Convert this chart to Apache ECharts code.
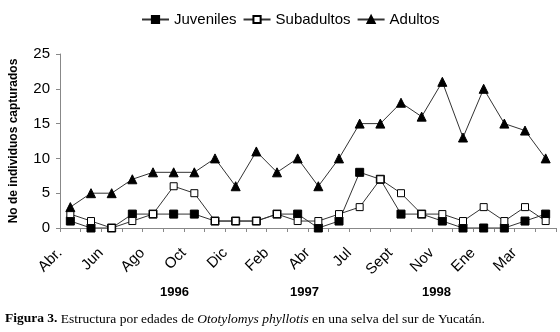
<!DOCTYPE html>
<html>
	<head>
		<meta charset="utf-8" />
    <title>Estructura por edades</title>
    <style>
      html, body { margin: 0; padding: 0; background: #fff; }
      #chartBox { width: 560px; height: 332px; }
    </style>
	</head>
	<body>
    <div id="chartBox"></div>
  </body>
	<script src="https://cdn.jsdelivr.net/npm/echarts@6/dist/echarts.min.js"></script>
  <script>
    // meses de muestreo (se rotula uno de cada dos)
    var months = ['Abr.', 'May', 'Jun', 'Jul', 'Ago', 'Sep', 'Oct', 'Nov', 'Dic', 'Ene', 'Feb', 'Mar',
                  'Abr', 'Jun', 'Jul', 'Ago', 'Sept', 'Oct', 'Nov', 'Dic', 'Ene', 'Feb', 'Mar', 'Abr'];
    var juveniles  = [1, 0, 0, 2, 2, 2, 2, 1, 1, 1, 2, 2, 0, 1, 8, 7, 2, 2, 1, 0, 0, 0, 1, 2];
    var subadultos = [2, 1, 0, 1, 2, 6, 5, 1, 1, 1, 2, 1, 1, 2, 3, 7, 5, 2, 2, 1, 3, 1, 3, 1];
    var adultos    = [3, 5, 5, 7, 8, 8, 8, 10, 6, 11, 8, 10, 6, 10, 15, 15, 18, 16, 21, 13, 20, 15, 14, 10];
    var yTicks = [0, 5, 10, 15, 20, 25];
    var years = ['1996', '1997', '1998'];

    var _font = 'Arial, "Liberation Sans", sans-serif';
    var _serif = '"Liberation Serif", "DejaVu Serif", serif';
    var _lineColor = '#333';

    function lineSeries(name, data, symbol, fill, size) {
      return {
        name: name,
        type: 'line',
        data: data,
        symbol: symbol,
        symbolSize: size,
        showAllSymbol: true,
        lineStyle: { color: _lineColor, width: 1 },
        itemStyle: { color: fill, borderColor: '#000', borderWidth: 1 },
        emphasis: { disabled: true },
        animation: false
      };
    }

    var myChart = echarts.init(document.getElementById('chartBox'));
    var option = {
      backgroundColor: '#fff',
      animation: false,
      legend: {
        top: 7,
        left: 136,
        itemWidth: 27,
        itemHeight: 9,
        itemGap: 6,
        textStyle: { fontFamily: _font, fontSize: 15, color: '#000' },
        data: ['Juveniles', 'Subadultos', 'Adultos']
      },
      grid: { left: 58, right: 4, top: 54, bottom: 104 },
      xAxis: {
        type: 'category',
        boundaryGap: true,
        data: months,
        axisLine: { lineStyle: { color: '#888', width: 1 } },
        axisTick: { show: true, interval: 0, length: 4, lineStyle: { color: '#888' } },
        axisLabel: {
          interval: 1,
          rotate: 45,
          margin: 12,
          padding: [0, 15, 0, 0],
          fontFamily: _font,
          fontSize: 15,
          color: '#000'
        },
        splitLine: { show: false }
      },
      yAxis: {
        type: 'value',
        min: yTicks[0],
        max: yTicks[yTicks.length - 1],
        interval: 5,
        name: 'No de individuos capturados',
        nameLocation: 'middle',
        nameGap: 40,
        nameTextStyle: { fontFamily: _font, fontSize: 12, fontWeight: 'bold', color: '#000' },
        axisLine: { show: true, lineStyle: { color: '#888', width: 1 } },
        axisTick: { show: true, length: 4, lineStyle: { color: '#888' } },
        axisLabel: { fontFamily: _font, fontSize: 15, color: '#000', margin: 10 },
        splitLine: { show: false }
      },
      graphic: [
        { type: 'text', left: 160, top: 286, style: { text: years[0], font: 'bold 13px Arial, "Liberation Sans", sans-serif', fill: '#000' } },
        { type: 'text', left: 290, top: 286, style: { text: years[1], font: 'bold 13px Arial, "Liberation Sans", sans-serif', fill: '#000' } },
        { type: 'text', left: 422, top: 286, style: { text: years[2], font: 'bold 13px Arial, "Liberation Sans", sans-serif', fill: '#000' } },
        {
          type: 'text', left: 5, top: 312,
          style: {
            text: '{b|Figura 3.} Estructura por edades de {i|Ototylomys phyllotis} en una selva del sur de Yucatán.',
            font: '13.5px ' + _serif,
            fill: '#000',
            rich: {
              b: { font: 'bold 13.5px ' + _serif, fill: '#000' },
              i: { font: 'italic 13.5px ' + _serif, fill: '#000' }
            }
          }
        }
      ],
      series: [
        lineSeries('Juveniles', juveniles, 'rect', '#000', 8),
        lineSeries('Subadultos', subadultos, 'rect', '#fff', 7),
        lineSeries('Adultos', adultos, 'triangle', '#000', 9)
      ]
    };
    myChart.setOption(option);
  </script>
  </html>
